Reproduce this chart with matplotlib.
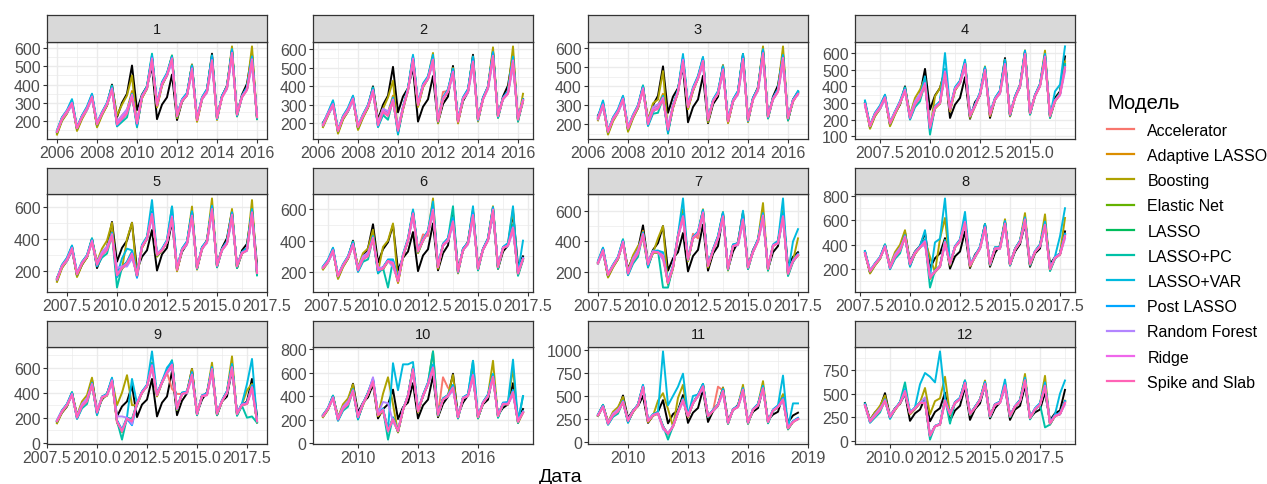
import numpy as np
import pandas as pd
import matplotlib
matplotlib.use("Agg")
import matplotlib.pyplot as plt
from matplotlib.lines import Line2D
from matplotlib.ticker import FixedLocator, AutoMinorLocator

plt.rcParams['font.family'] = ['Liberation Sans', 'DejaVu Sans']

# ---------------- data ----------------
quarters = pd.period_range('2006Q1', '2018Q4', freq='Q')
dates = np.asarray(quarters.year + (quarters.quarter - 1) / 4.0, dtype=float)

actual = [140, 205, 245, 300, 160, 225, 265, 330, 175, 240, 290, 400,
          220, 300, 350, 505, 260, 345, 390, 500, 210, 290, 330, 455,
          205, 305, 345, 510, 210, 320, 370, 570, 220, 335, 395, 590,
          235, 345, 405, 570, 220, 330, 370, 580, 240, 300, 330, 510,
          215, 290, 320, 540]

panel_names = ['1', '2', '3', '4', '5', '6', '7', '8', '9', '10', '11', '12']
panel_start = ['2006Q1', '2006Q2', '2006Q3', '2006Q4', '2007Q1', '2007Q2',
               '2007Q3', '2007Q4', '2008Q1', '2008Q2', '2008Q3', '2008Q4']

# Spike and Slab forecasts per horizon panel (41 quarters each)
consensus_1 = [140, 210, 250, 295, 160, 220, 265, 330, 180, 240, 290, 370, 180, 210, 240, 335,
               185, 330, 380, 535, 285, 400, 450, 540, 225, 310, 340, 480, 205, 320, 360, 530,
               215, 330, 380, 570, 235, 330, 370, 530, 220]
consensus_2 = [190, 250, 300, 160, 230, 270, 330, 180, 240, 290, 370, 190, 260, 240, 320,
               160, 280, 380, 540, 300, 400, 440, 540, 210, 330, 370, 470, 210, 330, 370, 530,
               220, 330, 390, 560, 240, 330, 360, 530, 220, 320]
consensus_3 = [230, 300, 160, 225, 265, 330, 175, 240, 290, 380, 200, 270, 280, 330,
               170, 290, 370, 530, 290, 380, 440, 530, 220, 320, 360, 480, 215, 320, 360, 540,
               220, 330, 380, 570, 240, 330, 370, 540, 230, 320, 360]
consensus_4 = [290, 160, 230, 270, 330, 175, 240, 300, 370, 210, 290, 330, 410,
               150, 270, 300, 480, 260, 380, 420, 530, 220, 280, 350, 490, 230, 320, 360, 530,
               230, 330, 400, 590, 240, 340, 400, 570, 220, 310, 350, 510]
consensus_5 = [150, 230, 270, 340, 180, 250, 290, 380, 240, 300, 330, 420,
               175, 220, 250, 300, 175, 350, 400, 550, 300, 330, 380, 530, 210, 330, 370, 540,
               220, 340, 380, 580, 235, 330, 370, 540, 230, 310, 330, 560, 190]
consensus_6 = [225, 265, 335, 170, 240, 290, 370, 210, 280, 300, 410,
               210, 220, 270, 250, 140, 300, 400, 570, 330, 400, 450, 590, 230, 370, 400, 520,
               200, 340, 380, 560, 220, 340, 400, 590, 230, 350, 370, 480, 190, 280]
consensus_7 = [260, 340, 180, 240, 290, 390, 190, 270, 320, 440,
               250, 330, 330, 300, 130, 230, 430, 560, 280, 420, 450, 580, 240, 340, 420, 560,
               220, 370, 380, 540, 230, 330, 400, 560, 220, 370, 390, 560, 190, 270, 310]
consensus_8 = [330, 180, 240, 290, 380, 210, 300, 350, 460,
               240, 330, 380, 420, 130, 180, 220, 420, 240, 380, 430, 580, 230, 300, 370, 540,
               240, 370, 370, 570, 240, 360, 420, 600, 240, 340, 390, 560, 200, 290, 320, 470]
consensus_9 = [170, 250, 300, 380, 200, 290, 330, 460,
               240, 360, 380, 490, 170, 90, 190, 170, 310, 400, 450, 610, 380, 480, 560, 620,
               270, 390, 400, 540, 230, 370, 380, 580, 230, 330, 400, 600, 230, 300, 310, 440, 170]
consensus_10 = [230, 290, 380, 200, 290, 330, 440,
                220, 330, 420, 520, 240, 280, 100, 200, 100, 280, 400, 620, 270, 400, 500, 640,
                240, 370, 400, 470, 220, 380, 400, 570, 220, 340, 400, 560, 230, 330, 330, 430,
                180, 260]
consensus_11 = [290, 380, 200, 290, 330, 430,
                230, 330, 400, 590, 230, 290, 310, 160, 90, 170, 320, 450, 280, 420, 500, 600,
                280, 340, 400, 550, 210, 350, 380, 560, 210, 350, 400, 580, 220, 340, 380, 460,
                150, 220, 250]
consensus_12 = [370, 200, 260, 320, 420,
                250, 330, 400, 520, 290, 340, 400, 400, 50, 150, 170, 420, 280, 400, 440, 610,
                280, 350, 430, 600, 260, 380, 400, 580, 260, 360, 420, 640, 240, 330, 380, 580,
                180, 260, 280, 400]
consensus = [consensus_1, consensus_2, consensus_3, consensus_4, consensus_5, consensus_6,
             consensus_7, consensus_8, consensus_9, consensus_10, consensus_11, consensus_12]

models = ['Accelerator', 'Adaptive LASSO', 'Boosting', 'Elastic Net', 'LASSO', 'LASSO+PC',
          'LASSO+VAR', 'Post LASSO', 'Random Forest', 'Ridge', 'Spike and Slab']
colors = ['#F8766D', '#DB8E00', '#AEA200', '#64B200', '#00BD5C', '#00C1A7',
          '#00BADE', '#00A6FF', '#B385FF', '#EF67EB', '#FF63B6']

# typical offset of each model from Spike and Slab, by target quarter 2006Q1..2018Q4
fringe_accelerator = [5, 5, 0, -5, 5, 0, 5, 0, 0, 5, 0, 5, 10, 5, 5, 0, 5, 10, 0, 5, 0, 5, 10, 0, 5, 0,
                      5, 10, 0, 5, 0, 5, 5, 0, 10, 0, 0, 5, 5, -5, 5, 0, 5, 0, 0, 5, 0, 10, 5, 0, 5, 5]
fringe_adaptive = [-10, -5, -5, 10, -10, -5, 0, 15, -10, -5, -5, 15, 10, 20, 20, 30, -5, -5, 0, 10,
                   -10, -5, 0, 15, -5, 5, 0, 20, -5, 0, 5, 20, -5, 0, 5, 25, -5, 5, 10, 25, -5, 0,
                   5, 20, -5, 5, 0, 15, -5, 0, 5, 15]
fringe_boosting = [-15, -10, -10, 10, -15, -10, -5, 15, -15, -10, -5, 20, 20, 40, 50, 60, -10, -5, 10,
                   15, -10, -5, 5, 20, -10, 0, 5, 30, -10, 0, 5, 30, -10, 5, 10, 40, -10, 5, 15, 45,
                   -10, 5, 10, 40, -10, 5, 10, 30, -10, 5, 10, 25]
fringe_enet = [-5, 0, 0, 5, -5, 0, 0, 5, -5, 0, -5, 10, 5, 10, 10, 15, 0, 0, -5, 10, 0, 5, 0, 5, -5, 0,
               5, 10, 0, 0, 5, 10, 0, 5, 0, 15, 0, 5, 5, 10, 0, 0, 5, 10, 0, 5, 0, 10, 0, 0, 5, 10]
fringe_lasso = [0, 5, 0, 10, 0, 5, 5, 5, 0, 5, 0, 10, 5, 10, 5, 10, -5, 5, 5, 10, 5, 0, 5, 10, 0, 5,
                0, 10, 5, 5, 0, 15, 0, 5, 5, 10, 5, 0, 5, 10, 0, 5, 0, 15, 5, 0, 5, 10, 0, 5, 0, 10]
fringe_lassopc = [5, 10, 5, 20, 5, 10, 10, 15, 5, 5, 10, 25, -10, -15, -20, 10, -20, 5, 10, 25, 5, 10,
                  10, 20, 10, 5, 10, 25, 5, 10, 15, 30, 0, 10, 5, 20, -10, 5, 10, 20, -10, 5, 10, 25,
                  -15, -5, 5, 20, -10, 5, 0, 20]
fringe_lassovar = [10, 10, 10, 25, 5, 10, 15, 20, 10, 10, 10, 20, -5, -5, 10, 20, 0, 10, 10, 30, 10,
                   15, 15, 25, 5, 10, 15, 25, 10, 10, 15, 30, -5, 10, 10, 25, -5, 10, 15, 25, 0, 10,
                   15, 30, 5, 15, 20, 40, 10, 20, 25, 50]
fringe_post = [0, 0, 5, 5, 0, 5, 0, 10, 5, 0, 5, 10, -5, 0, 5, 10, -10, 5, 5, 15, 5, 5, 0, 10, 0, 5, 5,
               15, 5, 0, 10, 15, 0, 5, 5, 15, 0, 5, 10, 15, 5, 5, 5, 10, 5, 10, 10, 20, 5, 10, 15, 20]
fringe_rf = [5, 0, -5, -10, 5, 0, -5, -10, 10, 5, 0, -5, 15, 20, 25, -5, 20, 5, 0, -20, 10, 5, 0, -20,
             10, 5, 0, -15, 10, 0, -5, -20, 10, 0, -5, -20, 10, 0, 0, -25, 10, 5, -5, -20, 10, 5, 0,
             -20, 10, 5, 0, -15]
fringe_ridge = [0, 5, 5, 5, 0, 5, 5, 5, 5, 0, 5, 10, 5, 10, 10, 10, 5, 5, 0, 10, 0, 5, 5, 5, 5, 0, 5,
                10, 0, 5, 5, 5, 5, 0, 5, 5, 0, 5, 5, 10, 5, 5, 0, 5, 0, 5, 5, 5, 5, 0, 5, 5]
fringe_sns = [0] * 52
fringe = dict(zip(models, [fringe_accelerator, fringe_adaptive, fringe_boosting, fringe_enet,
                           fringe_lasso, fringe_lassopc, fringe_lassovar, fringe_post, fringe_rf,
                           fringe_ridge, fringe_sns]))

# distinctive forecasts: model -> panel -> {date: value}
overrides = {
    'Boosting': {
        1: {2009.0: 230, 2009.25: 290, 2009.5: 340, 2009.75: 450, 2013.75: 555, 2014.75: 610, 2015.75: 610},
        2: {2009.25: 280, 2009.5: 340, 2009.75: 430, 2010.75: 555, 2011.75: 580, 2014.75: 610,
            2015.75: 615, 2016.25: 360},
        3: {2009.5: 330, 2009.75: 480, 2013.75: 560, 2014.75: 610, 2015.75: 610},
        4: {2009.75: 450, 2010.25: 340, 2010.5: 390, 2014.75: 615, 2015.75: 615},
        5: {2009.25: 340, 2009.5: 390, 2009.75: 500, 2010.5: 400, 2010.75: 500, 2013.75: 600,
            2014.75: 650, 2016.75: 640},
        6: {2010.25: 360, 2010.5: 400, 2010.75: 510, 2012.75: 670, 2015.75: 620, 2016.75: 600},
        7: {2009.75: 420, 2010.5: 420, 2010.75: 500, 2011.75: 610, 2015.75: 650, 2016.75: 600, 2017.5: 420},
        8: {2011.0: 300, 2011.5: 450, 2011.75: 620, 2015.75: 660, 2016.75: 650, 2017.75: 620},
        9: {2011.0: 300, 2011.25: 400, 2011.5: 540, 2011.75: 300, 2014.75: 590, 2015.75: 640,
            2016.75: 690, 2017.5: 420},
        10: {2011.25: 420, 2011.5: 560, 2011.75: 330, 2013.75: 780, 2014.75: 580, 2016.75: 700,
             2017.75: 640},
        11: {2011.5: 450, 2011.75: 530, 2012.0: 360, 2012.5: 480, 2012.75: 620, 2015.75: 620,
             2016.75: 660, 2017.75: 520},
        12: {2011.75: 560, 2012.0: 280, 2012.25: 420, 2012.5: 450, 2012.75: 680, 2016.75: 710,
             2017.75: 690},
    },
    'LASSO+VAR': {
        1: {2006.75: 320, 2009.75: 350, 2010.75: 560, 2011.75: 550},
        2: {2011.75: 570, 2015.75: 560},
        3: {2010.75: 570},
        4: {2009.75: 460, 2010.75: 600, 2011.75: 560, 2016.25: 370, 2016.5: 410, 2016.75: 640},
        5: {2010.25: 280, 2010.5: 340, 2011.75: 640, 2012.75: 600, 2016.75: 580},
        6: {2011.75: 600, 2012.75: 650, 2014.75: 620, 2016.75: 620, 2017.25: 400},
        7: {2011.75: 680, 2014.75: 600, 2016.75: 680, 2017.25: 400, 2017.5: 480},
        8: {2010.75: 520, 2011.25: 420, 2011.5: 450, 2011.75: 780, 2012.75: 670, 2017.5: 470, 2017.75: 700},
        9: {2011.75: 510, 2012.75: 730, 2013.5: 600, 2017.5: 470, 2017.75: 670},
        10: {2011.75: 680, 2012.0: 450, 2012.25: 670, 2012.5: 670, 2012.75: 690, 2015.75: 700,
             2017.75: 710, 2018.25: 400},
        11: {2011.75: 980, 2012.0: 400, 2012.25: 500, 2012.5: 600, 2012.75: 740, 2013.25: 500,
             2017.75: 720, 2018.25: 420, 2018.5: 420},
        12: {2011.5: 600, 2011.75: 720, 2012.0: 680, 2012.25: 620, 2012.5: 950, 2012.75: 450,
             2015.75: 650, 2018.5: 500, 2018.75: 640},
    },
    'LASSO+PC': {
        1: {2010.75: 570},
        4: {2010.0: 110},
        5: {2010.0: 100, 2012.75: 600},
        6: {2010.5: 100, 2013.75: 620},
        7: {2010.75: 100, 2011.0: 100},
        8: {2011.0: 50},
        9: {2011.25: 25, 2013.75: 660, 2017.5: 200, 2017.75: 210},
        10: {2011.5: 30, 2013.75: 780, 2015.75: 700, 2018.25: 400},
        11: {2012.0: 30},
        12: {2010.75: 620, 2012.0: 10, 2013.0: 180, 2017.75: 140},
    },
    'Random Forest': {
        5: {2010.0: 220, 2010.25: 230, 2010.5: 230},
        9: {2011.0: 210, 2011.25: 210, 2011.5: 200},
        10: {2010.75: 560, 2011.25: 350, 2011.5: 340},
        12: {2011.75: 460},
    },
    'Accelerator': {
        2: {2012.25: 370},
        6: {2012.25: 440, 2012.5: 430},
        7: {2012.25: 450, 2012.5: 420},
        9: {2013.75: 430, 2014.0: 390},
        10: {2014.25: 560, 2014.5: 470},
        11: {2014.5: 600, 2014.75: 560},
    },
    'Post LASSO': {
        5: {2011.0: 160},
        9: {2011.75: 140},
    },
}

x_ticks = [[2006, 2008, 2010, 2012, 2014, 2016]] * 3 + \
          [[2007.5, 2010.0, 2012.5, 2015.0]] + \
          [[2007.5, 2010.0, 2012.5, 2015.0, 2017.5]] * 5 + \
          [[2010, 2013, 2016], [2010, 2013, 2016, 2019], [2010.0, 2012.5, 2015.0, 2017.5]]
x_labels = [['2006', '2008', '2010', '2012', '2014', '2016']] * 3 + \
           [['2007.5', '2010.0', '2012.5', '2015.0']] + \
           [['2007.5', '2010.0', '2012.5', '2015.0', '2017.5']] * 5 + \
           [['2010', '2013', '2016'], ['2010', '2013', '2016', '2019'],
            ['2010.0', '2012.5', '2015.0', '2017.5']]
y_ticks = [[200, 300, 400, 500, 600]] * 3 + [[100, 200, 300, 400, 500, 600]] + \
          [[200, 400, 600]] * 3 + [[200, 400, 600, 800]] + [[0, 200, 400, 600]] + \
          [[0, 200, 400, 600, 800]] + [[0, 250, 500, 750, 1000]] + [[0, 250, 500, 750]]

# ---------------- drawing ----------------
W, H = 1267, 485
fig = plt.figure(figsize=(W / 100, H / 100), dpi=100)
col_left = [47, 313, 588, 855]
pw = 220
row_plot = [(43, 140), (195, 293), (348, 445)]
row_strip = [(16, 43), (169, 195), (322, 348)]
actual_arr = np.array(actual, dtype=float)

for p in range(12):
    r, c = divmod(p, 4)
    top, bot = row_plot[r]
    ax = fig.add_axes([col_left[c] / W, 1 - bot / H, pw / W, (bot - top) / H])
    st, sb = row_strip[r]
    sax = fig.add_axes([col_left[c] / W, 1 - sb / H, pw / W, (sb - st) / H])
    sax.set_facecolor('#D9D9D9')
    sax.set_xticks([]); sax.set_yticks([])
    for s in sax.spines.values():
        s.set_color('#333333'); s.set_linewidth(0.9)
    sax.text(0.5, 0.5, panel_names[p], ha='center', va='center', fontsize=10.5, color='#1A1A1A',
             transform=sax.transAxes)

    start = quarters.get_loc(pd.Period(panel_start[p], freq='Q'))
    idx = np.arange(start, start + len(consensus[p]))
    x = dates[idx]
    ax.plot(x, actual_arr[idx], color='black', lw=1.4, zorder=2)
    for m, col in zip(models, colors):
        vals = np.array(consensus[p], dtype=float) + np.array(fringe[m], dtype=float)[idx]
        for yr, v in overrides.get(m, {}).get(p + 1, {}).items():
            k = int(np.argmin(np.abs(x - yr)))
            vals[k] = v
        ax.plot(x, vals, color=col, lw=1.4, zorder=3)

    ax.margins(x=0.05, y=0.05)
    ax.xaxis.set_major_locator(FixedLocator(x_ticks[p]))
    ax.set_xticklabels(x_labels[p])
    ax.yaxis.set_major_locator(FixedLocator(y_ticks[p]))
    ax.set_yticklabels([str(v) for v in y_ticks[p]])
    ax.xaxis.set_minor_locator(AutoMinorLocator(2))
    ax.yaxis.set_minor_locator(AutoMinorLocator(2))
    ax.grid(which='major', color='#EBEBEB', lw=1.0, zorder=0)
    ax.grid(which='minor', color='#EBEBEB', lw=0.5, zorder=0)
    ax.set_axisbelow(True)
    ax.tick_params(which='major', length=3, width=0.8, color='#333333', labelcolor='#4D4D4D',
                   labelsize=11.5, pad=1.5)
    ax.tick_params(which='minor', length=0)
    for s in ax.spines.values():
        s.set_color('#333333'); s.set_linewidth(0.9)

fig.text(561 / W, 1 - 478 / H, 'Дата', ha='center', va='center', fontsize=14, color='black')

handles = [Line2D([], [], color=c, lw=1.6) for c in colors]
fig.legend(handles, models, title='Модель', loc='upper left', bbox_to_anchor=(1101 / W, 1 - 88 / H),
           frameon=False, fontsize=11.5, title_fontsize=14.5, handlelength=1.65, handletextpad=0.85,
           labelspacing=0.64, alignment='left', borderaxespad=0)

fig.savefig('out.png', dpi=100)
